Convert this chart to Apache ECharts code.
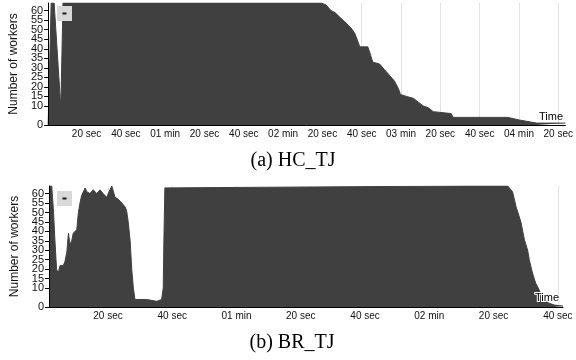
<!DOCTYPE html>
<html>
<head>
<meta charset="utf-8">
<script src="https://cdn.jsdelivr.net/npm/echarts@6/dist/echarts.min.js"></script>
<style>
  html, body { margin: 0; padding: 0; background: #fff; }
  #chart { width: 576px; height: 360px; }
</style>
</head>
<body>
<div id="chart"></div>
<script>
// (a) HC_TJ — seconds since start / number of workers
const hcTime = [0.45, 2.0, 3.5, 6.9, 8.0, 139.3, 141.9, 144.4, 146.4, 149.4, 151.5, 154.5, 156.5, 158.0, 159.0,
  163.1, 164.1, 165.6, 169.1, 171.6, 174.2, 176.7, 178.7, 179.7, 182.8, 186.3, 188.8, 191.3, 193.9, 196.4,
  197.4, 205.5, 206.5, 234.3, 235.3, 240.3, 245.8, 248.9, 263.6];
const hcWorkers = [0, 64, 64, 9, 64, 64, 63, 60, 59, 56, 54, 51, 48, 44, 41,
  41, 38, 33, 32, 29, 26, 23, 19, 16, 15, 14, 12, 10, 9, 7,
  6, 6, 4, 4, 3.5, 2.6, 1.6, 1, 1];

// (b) BR_TJ
const brTime = [1.65, 2.5, 3.0, 3.5, 4.0, 4.5, 5.1, 6.1, 6.6, 7.2, 7.7, 8.2, 8.7, 9.2, 9.7, 10.3, 10.8, 11.3,
  11.8, 12.9, 13.4, 14.4, 15.4, 16.5, 17.5, 18.5, 19.6, 20.6, 21.2, 22.2, 23.2, 24.3, 25.3, 25.8, 26.3,
  26.9, 27.4, 27.9, 28.4, 32.0, 32.5, 35.2, 35.7, 36.7, 37.2, 37.4, 37.7, 38.0, 131.2, 131.4, 131.6,
  136.5, 136.7, 136.9, 144.4, 145.9, 147.0, 148.5, 149.6, 150.6, 151.1, 152.1, 153.1, 154.2, 154.7,
  157.2, 159.0, 161.6];
const brWorkers = [64, 64, 52, 35, 20, 18, 22, 22, 24, 29, 39, 33, 35, 39, 38, 41, 50, 55,
  59, 63, 61, 60, 62, 60, 62, 60, 58, 62, 64, 58, 57, 55, 53, 51, 45,
  35, 20, 10, 4, 4, 3, 3, 4, 4, 10, 35, 63, 64, 64, 63, 64,
  64, 63, 64, 64, 61, 53, 45, 35.5, 30, 25, 18, 12.6, 9, 6,
  2, 1, 0.5];

const hcTicks = [20, 40, 60, 80, 100, 120, 140, 160, 180, 200, 220, 240, 260];
const brTicks = [20, 40, 60, 80, 100, 120, 140, 160];
const workerMax = 64;
const workerStep = 5;

const FONT = "'Liberation Sans', Arial, sans-serif";
const FILL = "#404040";

function timeLabel(v) {
  const s = Math.round(v);
  if (s % 60 === 0) return String(s / 60).padStart(2, "0") + " min";
  return (s % 60) + " sec";
}

function pairs(xs, ys) {
  return xs.map((x, i) => [x, ys[i]]);
}

function xAxisFor(gridIndex, min, max, ticks) {
  return {
    type: "value",
    gridIndex,
    min,
    max,
    axisLine: { lineStyle: { color: "#000", width: 1 } },
    axisTick: { show: false, customValues: ticks },
    axisLabel: {
      customValues: ticks,
      formatter: timeLabel,
      color: "#111",
      fontSize: 10,
      fontFamily: FONT,
      margin: 4,
    },
    splitLine: { show: true, lineStyle: { color: "#e3e3e3", width: 1 } },
  };
}

function yAxisFor(gridIndex) {
  return {
    type: "value",
    gridIndex,
    min: 0,
    max: workerMax,
    interval: workerStep,
    name: "Number of workers",
    nameLocation: "middle",
    nameGap: 27,
    nameTextStyle: { color: "#111", fontSize: 12, fontFamily: FONT },
    axisLine: { show: true, lineStyle: { color: "#000", width: 1 } },
    axisTick: { show: true, inside: false, length: 4, lineStyle: { color: "#000", width: 1 } },
    axisLabel: {
      show: true,
      showMinLabel: true,
      showMaxLabel: false,
      hideOverlap: false,
      formatter: (v) => (v > 60 ? "" : String(v)),
      color: "#111",
      fontSize: 11,
      lineHeight: 10,
      fontFamily: FONT,
      margin: 5,
    },
    splitLine: { show: false },
    z: 10,
  };
}

function areaSeries(index, data) {
  return {
    type: "line",
    xAxisIndex: index,
    yAxisIndex: index,
    data,
    symbol: "none",
    lineStyle: { color: FILL, width: 1 },
    areaStyle: { color: FILL, opacity: 1 },
    silent: true,
    z: 2,
  };
}

function collapseButton(x, y) {
  return [
    { type: "rect", z: 100, left: x, top: y, shape: { width: 15, height: 15 }, style: { fill: "#d9d9d9" } },
    { type: "rect", z: 101, left: x + 5.5, top: y + 6.5, shape: { width: 4, height: 2 }, style: { fill: "#1a1a1a" } },
  ];
}

const chart = echarts.init(document.getElementById("chart"));
chart.setOption({
  animation: false,
  grid: [
    { left: 48, top: 3, width: 521, height: 122 },
    { left: 49, top: 186, width: 514, height: 121 },
  ],
  xAxis: [xAxisFor(0, 0.45, 263.6, hcTicks), xAxisFor(1, 1.65, 161.6, brTicks)],
  yAxis: [yAxisFor(0), yAxisFor(1)],
  series: [areaSeries(0, pairs(hcTime, hcWorkers)), areaSeries(1, pairs(brTime, brWorkers))],
  graphic: [
    ...collapseButton(57, 6),
    ...collapseButton(57, 191),
    { type: "text", z: 100, x: 551, y: 117, style: { text: "Time", fill: "#000", font: "11px " + FONT, align: "center", verticalAlign: "middle" } },
    { type: "text", z: 100, x: 547, y: 298, style: { text: "Time", fill: "#000", font: "11px " + FONT, align: "center", verticalAlign: "middle", stroke: "#fff", lineWidth: 2 } },
    { type: "text", z: 100, x: 293, y: 161, style: { text: "(a) HC_TJ", fill: "#000", font: "20px 'Liberation Serif', 'Times New Roman', serif", align: "center", verticalAlign: "middle" } },
    { type: "text", z: 100, x: 292, y: 343, style: { text: "(b) BR_TJ", fill: "#000", font: "20px 'Liberation Serif', 'Times New Roman', serif", align: "center", verticalAlign: "middle" } },
  ],
});
</script>
</body>
</html>
